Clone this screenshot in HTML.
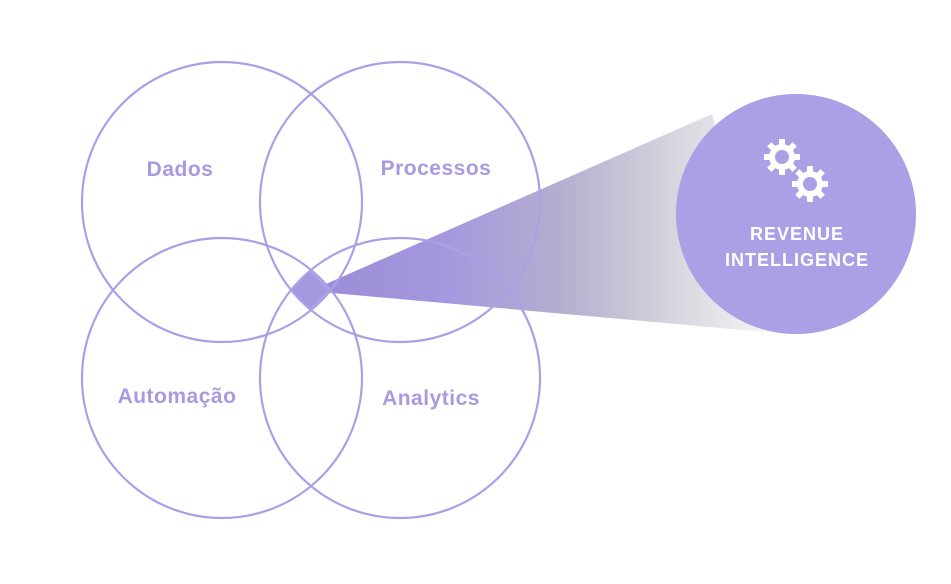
<!DOCTYPE html>
<html><head><meta charset="utf-8"><style>body{margin:0;background:#fff}</style></head><body>
<svg width="951" height="579" viewBox="0 0 951 579" xmlns="http://www.w3.org/2000/svg">
<defs>
<linearGradient id="b" x1="310" y1="0" x2="760" y2="0" gradientUnits="userSpaceOnUse">
<stop offset="0" stop-color="#9a8bd6"/>
<stop offset="0.3" stop-color="#a597df"/>
<stop offset="0.55" stop-color="#b4add0"/>
<stop offset="0.8" stop-color="#d5d3dc"/>
<stop offset="1" stop-color="#f2f2f4"/>
</linearGradient>
<g id="gear"><g fill="#fff">
<circle r="13"/>
<g><rect x="-3" y="-18" width="6" height="36"/><rect x="-3" y="-18" width="6" height="36" transform="rotate(45)"/><rect x="-3" y="-18" width="6" height="36" transform="rotate(90)"/><rect x="-3" y="-18" width="6" height="36" transform="rotate(135)"/></g>
</g><circle r="7" fill="#ab9fe6"/></g>
</defs>
<polygon points="310,291 712,114 765,332" fill="url(#b)"/>
<g fill="none" stroke="#ab9fe6" stroke-width="2.2">
<circle cx="222" cy="202" r="140"/>
<circle cx="400" cy="202" r="140"/>
<circle cx="222" cy="378" r="140"/>
<circle cx="400" cy="378" r="140"/>
</g>
<polygon points="310,271 329,290 310,309 291,290" fill="#a597df" stroke="#ab9fe6" stroke-width="2"/>
<circle cx="796" cy="214" r="120" fill="#ab9fe6"/>
<use href="#gear" x="782" y="157"/>
<use href="#gear" x="810" y="184"/>
<g font-family="Liberation Sans, sans-serif" font-weight="bold" text-anchor="middle">
<text x="797" y="240" font-size="18" fill="#fff" letter-spacing="1">REVENUE</text>
<text x="797" y="266" font-size="18" fill="#fff" letter-spacing="1">INTELLIGENCE</text>
<g font-size="21" fill="#a99ae0" letter-spacing="0.5">
<text x="180" y="176">Dados</text>
<text x="436" y="175">Processos</text>
<text x="177" y="403">Automação</text>
<text x="431" y="405">Analytics</text>
</g></g>
</svg>
</body></html>
